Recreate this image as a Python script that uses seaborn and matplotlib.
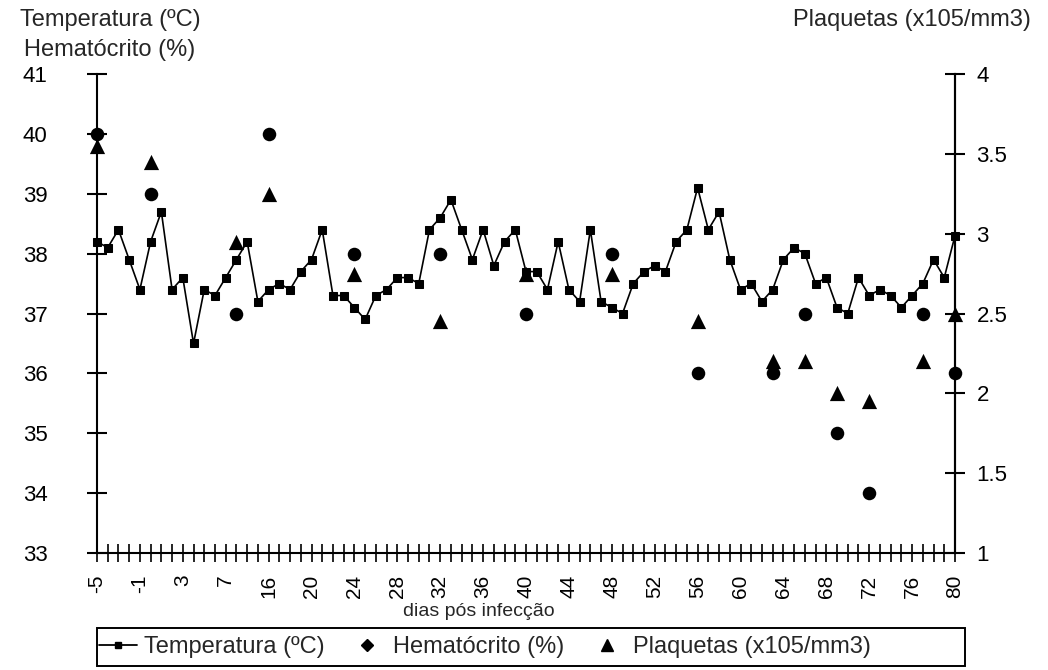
import matplotlib
matplotlib.use("Agg")
import matplotlib.pyplot as plt
import seaborn as sns
import pandas as pd
from matplotlib.lines import Line2D
from matplotlib.patches import Rectangle

# ---- data ----
days = list(range(-5, 8)) + [8, 10, 12] + list(range(16, 81))
temperatura = [38.2, 38.1, 38.4, 37.9, 37.4, 38.2, 38.7, 37.4, 37.6, 36.5, 37.4, 37.3, 37.6,
               37.9, 38.2, 37.2,
               37.4, 37.5, 37.4, 37.7, 37.9, 38.4, 37.3, 37.3, 37.1, 36.9, 37.3, 37.4, 37.6, 37.6, 37.5,
               38.4, 38.6, 38.9, 38.4, 37.9, 38.4, 37.8, 38.2, 38.4, 37.7,
               37.7, 37.4, 38.2, 37.4, 37.2, 38.4, 37.2, 37.1, 37.0, 37.5,
               37.7, 37.8, 37.7, 38.2, 38.4, 39.1, 38.4, 38.7, 37.9, 37.4,
               37.5, 37.2, 37.4, 37.9, 38.1, 38.0, 37.5, 37.6, 37.1, 37.0,
               37.6, 37.3, 37.4, 37.3, 37.1, 37.3, 37.5, 37.9, 37.6, 38.3]
hemato_days = [-5, 0, 8, 16, 24, 32, 40, 48, 56, 63, 66, 69, 72, 77, 80]
hematocrito = [40, 39, 37, 40, 38, 38, 37, 38, 36, 36, 37, 35, 34, 37, 36]
plaq_days = [-5, 0, 8, 16, 24, 32, 40, 48, 56, 63, 66, 69, 72, 77, 80]
plaquetas = [3.55, 3.45, 2.95, 3.25, 2.75, 2.45, 2.75, 2.75, 2.45, 2.2, 2.2, 2.0, 1.95, 2.2, 2.5]
left_ticks = [33, 34, 35, 36, 37, 38, 39, 40, 41]
right_ticks = [1, 1.5, 2, 2.5, 3, 3.5, 4]
series_labels = ["Temperatura (ºC)", "Hematócrito (%)", "Plaquetas (x105/mm3)"]

sns.set_style("ticks")
plt.rcParams['font.family'] = ['Liberation Sans', 'DejaVu Sans']

pos = {d: i for i, d in enumerate(days)}
df_t = pd.DataFrame({'pos': list(range(len(days))), 'temp': temperatura})
df_h = pd.DataFrame({'pos': [pos[d] for d in hemato_days], 'h': hematocrito})
df_p = pd.DataFrame({'pos': [pos[d] for d in plaq_days], 'p': plaquetas})

W, H = 1048, 670
fig = plt.figure(figsize=(W / 100, H / 100), dpi=100)
ax = fig.add_axes([97 / W, 1 - 553 / H, 858 / W, 479 / H])
ax2 = ax.twinx()

sns.lineplot(data=df_t, x='pos', y='temp', ax=ax, color='black', marker='s', markersize=6,
             markeredgecolor='black', linewidth=1.2, legend=False, clip_on=False)
sns.scatterplot(data=df_h, x='pos', y='h', ax=ax, color='black', marker='o', s=95,
                linewidth=0, legend=False, zorder=5, clip_on=False)
sns.scatterplot(data=df_p, x='pos', y='p', ax=ax2, color='black', marker='^', s=120,
                linewidth=0, legend=False, zorder=5, clip_on=False)

ax.set_xlim(0, len(days) - 1)
ax.set_ylim(33, 41)
ax2.set_ylim(1, 4)
ax.set_xticks(list(range(len(days))))
ax.set_xticklabels([str(d) if i % 4 == 0 else '' for i, d in enumerate(days)])
ax.set_yticks(left_ticks)
ax.set_yticklabels([str(v) for v in left_ticks])
ax2.set_yticks(right_ticks)
ax2.set_yticklabels([('%g' % v) for v in right_ticks])

for a in (ax, ax2):
    a.set_xlabel('')
    a.set_ylabel('')
    a.spines['top'].set_visible(False)
    for s in a.spines.values():
        s.set_linewidth(1.5)
        s.set_color('black')
    a.grid(False)

ax.tick_params(axis='x', direction='inout', length=13, width=1.2, labelsize=15,
               labelrotation=90, pad=9, colors='black')
ax.tick_params(axis='y', direction='inout', length=15, width=1.5, labelsize=16, pad=28, colors='black')
ax2.tick_params(axis='y', direction='inout', length=15, width=1.5, labelsize=16, pad=8, colors='black')
ax2.spines['left'].set_visible(False)
ax2.spines['bottom'].set_visible(False)

fig.text(110 / W, 1 - 20 / H, "Temperatura (ºC)", ha='center', va='center', fontsize=17)
fig.text(110 / W, 1 - 50 / H, "Hematócrito (%)", ha='center', va='center', fontsize=17)
fig.text(912 / W, 1 - 20 / H, "Plaquetas (x105/mm3)", ha='center', va='center', fontsize=17)
fig.text(479 / W, 1 - 612 / H, "dias pós infecção", ha='center', va='center', fontsize=14)

# legend box
fig.patches.append(Rectangle((97 / W, 1 - 666 / H), 868 / W, 38 / H, transform=fig.transFigure,
                             fill=False, edgecolor='black', linewidth=1.4))
handles = [Line2D([0], [0], color='black', marker='s', markersize=5, lw=1.3),
           Line2D([0], [0], color='black', marker='D', markersize=6, lw=0),
           Line2D([0], [0], color='black', marker='^', markersize=8, lw=0)]
leg = fig.legend(handles, series_labels, loc='center left',
                 bbox_to_anchor=(97 / W, 1 - 647 / H), ncol=3,
                 frameon=False, fontsize=17, handlelength=1.6, handletextpad=0.3,
                 columnspacing=1.0, borderaxespad=0, borderpad=0.1)

fig.savefig("out.png", dpi=100, facecolor='white')
